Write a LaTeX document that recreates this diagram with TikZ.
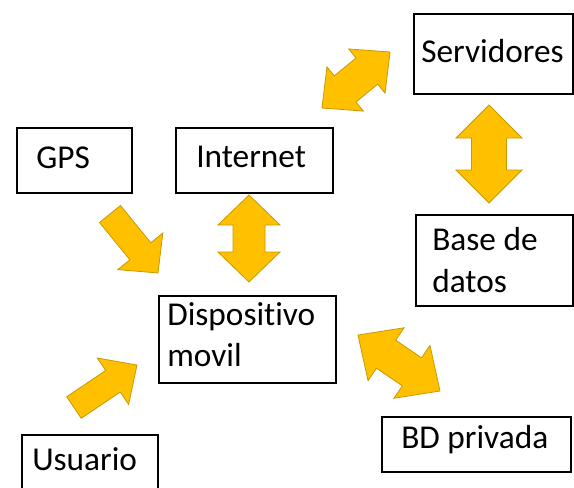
\documentclass[tikz,border=0pt]{standalone}
\usepackage{fontspec}
\setmainfont{Carlito}[Ligatures={NoCommon}]
\usetikzlibrary{calc}
\definecolor{gold}{HTML}{FFC000}
\definecolor{golddark}{HTML}{C89A00}
\tikzset{
  box/.style={draw=black, line width=1.3pt, rectangle, inner sep=0pt, anchor=north west},
  lbl/.style={anchor=base west, inner sep=0pt, text=black, font=\fontsize{25}{30.75}\selectfont},
  blockarrow/.style={fill=gold, draw=golddark, line width=0.6pt, line join=miter},
}
% single block arrow: tail, tip, head length, head half width, shaft half width
\newcommand{\blockarrowone}[5]{%
  \coordinate (tmpH) at ($(#2)!#3!(#1)$);
  \filldraw[blockarrow] ($(#1)!#5!90:(#2)$) -- ($(tmpH)!#5!90:(#2)$) -- ($(tmpH)!#4!90:(#2)$) -- (#2)
    -- ($(tmpH)!#4!-90:(#2)$) -- ($(tmpH)!#5!-90:(#2)$) -- ($(#1)!#5!-90:(#2)$) -- cycle;
}
% double block arrow: tip, tip, head length, head half width, shaft half width
\newcommand{\blockarrowtwo}[5]{%
  \coordinate (tmpA) at ($(#1)!#3!(#2)$);
  \coordinate (tmpB) at ($(#2)!#3!(#1)$);
  \filldraw[blockarrow] (#1) -- ($(tmpA)!#4!90:(#2)$) -- ($(tmpA)!#5!90:(#2)$) -- ($(tmpB)!#5!90:(#2)$)
    -- ($(tmpB)!#4!90:(#2)$) -- (#2) -- ($(tmpB)!#4!-90:(#2)$) -- ($(tmpB)!#5!-90:(#2)$)
    -- ($(tmpA)!#5!-90:(#2)$) -- ($(tmpA)!#4!-90:(#2)$) -- cycle;
}
\begin{document}
\begin{tikzpicture}[x=0.75pt,y=-0.75pt]
\useasboundingbox (0,0) rectangle (574,487);
\clip (0,0) rectangle (574,487);
\fill[white] (0,0) rectangle (574,487);

% boxes
\node[box, minimum width=119.25pt, minimum height=60pt] (serv) at (413,13) {};
\node[box, minimum width=86.25pt, minimum height=48.75pt] (gps) at (16,127) {};
\node[box, minimum width=117.75pt, minimum height=48.75pt] (inet) at (175,127) {};
\node[box, minimum width=117.75pt, minimum height=68.25pt] (bdd) at (415,214) {};
\node[box, minimum width=132.75pt, minimum height=65.25pt] (disp) at (158,295) {};
\node[box, minimum width=141.75pt, minimum height=41.25pt] (priv) at (381,416) {};
\node[box, minimum width=102pt, minimum height=52.5pt] (usu) at (21,434) {};

% texts
\node[lbl] (tserv) at (421,62) {Servidores};
\node[lbl] (tgps) at (36,168) {GPS};
\node[lbl] (tinet) at (196,167) {Internet};
\node[lbl] (tdisp1) at (167,325) {Dispositivo};
\node[lbl] (tdisp2) at (167,366) {movil};
\node[lbl] (tbdd1) at (432,250) {Base de};
\node[lbl] (tbdd2) at (432,292) {datos};
\node[lbl] (tpriv) at (401,448) {BD privada};
\node[lbl] (tusu) at (32,470) {Usuario};

% arrow end points
\coordinate (gpsA) at (110,214);  \coordinate (gpsB) at (158,273);
\coordinate (usuA) at (74,407.5); \coordinate (usuB) at (137,365);
\coordinate (idA) at (249,195);   \coordinate (idB) at (249,282);
\coordinate (sbA) at (489,105);   \coordinate (sbB) at (489,203);
\coordinate (isA) at (322,108);   \coordinate (isB) at (390,52);
\coordinate (dpA) at (358,335);   \coordinate (dpB) at (440,391);

% block arrows
\blockarrowone{gpsA}{gpsB}{21pt}{21.75pt}{10.125pt}
\blockarrowone{usuA}{usuB}{21.75pt}{21pt}{9.75pt}
\blockarrowtwo{idA}{idB}{22.5pt}{23.25pt}{12pt}
\blockarrowtwo{sbA}{sbB}{24.75pt}{24.75pt}{13.125pt}
\blockarrowtwo{isA}{isB}{22.5pt}{21.5pt}{12.75pt}
\blockarrowtwo{dpA}{dpB}{25.5pt}{24pt}{12.75pt}
\end{tikzpicture}
\end{document}
